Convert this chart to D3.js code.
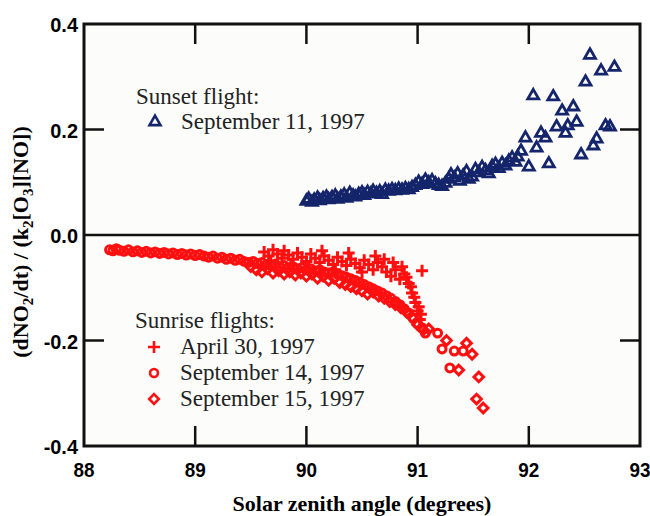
<!DOCTYPE html>
<html>
<head>
<meta charset="utf-8">
<script src="https://cdn.jsdelivr.net/npm/d3@7"></script>
<style>
  body { margin: 0; background: #fff; }
  .tick-label { font-family: "Liberation Sans", "Helvetica", sans-serif; font-weight: bold; font-size: 21px; fill: #000; }
  .title { font-family: "Liberation Serif", "Times New Roman", serif; font-weight: bold; font-size: 22px; fill: #000; }
  .legend { font-family: "Liberation Serif", "Times New Roman", serif; font-size: 23px; fill: #222; }
</style>
</head>
<body>
<svg id="chart" width="650" height="516"></svg>
<script>
// x ticks / y ticks
var xTicks = [88, 89, 90, 91, 92, 93];
var yTicks = [0.4, 0.2, 0.0, -0.2, -0.4];
var yTickLabels = ["0.4", "0.2", "0.0", "-0.2", "-0.4"];

// Sunset flight, September 11 1997 (triangles): [sza, value]
var sep11 = [
  [90.00,.064],[90.02,.068],[90.05,.062],[90.07,.066],[90.10,.070],[90.12,.065],[90.15,.069],[90.18,.072],
  [90.20,.067],[90.23,.071],[90.26,.074],[90.28,.068],[90.31,.072],[90.34,.076],[90.36,.070],[90.39,.079],
  [90.42,.074],[90.44,.072],[90.47,.077],[90.50,.080],[90.52,.075],[90.55,.081],[90.58,.078],[90.60,.083],
  [90.63,.079],[90.66,.082],[90.68,.077],[90.71,.085],[90.74,.083],[90.77,.086],[90.80,.084],[90.83,.087],
  [90.86,.085],[90.89,.088],[90.92,.086],[90.95,.090],[90.98,.094],[91.01,.100],[91.04,.096],[91.07,.104],
  [91.10,.099],[91.13,.103],[91.16,.097],[91.19,.094],[91.22,.092],[91.25,.098],[91.28,.106],[91.30,.114],
  [91.33,.108],[91.36,.116],[91.38,.102],[91.41,.112],[91.44,.120],[91.46,.106],[91.49,.110],[91.52,.124],
  [91.55,.118],[91.58,.128],[91.61,.122],[91.64,.116],[91.67,.130],[91.70,.134],[91.73,.126],[91.76,.136],
  [91.79,.131],[91.82,.140],[91.85,.146],[91.88,.138],
  [91.90,.148],[91.93,.159],[91.97,.184],[92.00,.129],[92.07,.165],[92.11,.193],[92.15,.184],[92.18,.135],
  [92.04,.264],[92.22,.262],[92.30,.235],[92.40,.243],[92.25,.205],[92.35,.207],[92.43,.214],[92.33,.193],
  [92.47,.152],[92.58,.169],[92.61,.182],[92.69,.207],[92.73,.205],[92.51,.290],[92.55,.341],[92.65,.311],
  [92.77,.318]
];

// Sunrise flight, April 30 1997 (crosses)
var apr30 = [
  [89.62,-.032],[89.66,-.040],[89.70,-.028],[89.74,-.036],[89.78,-.044],[89.80,-.030],[89.84,-.038],
  [89.88,-.046],[89.92,-.034],[89.96,-.042],[90.00,-.050],[90.04,-.036],[90.08,-.044],[90.12,-.052],
  [90.16,-.040],[90.20,-.048],[90.24,-.056],[90.28,-.042],[90.32,-.050],[90.36,-.058],[90.40,-.046],
  [90.44,-.054],[90.48,-.062],[90.52,-.048],[90.56,-.056],[90.60,-.066],[90.64,-.052],[90.68,-.060],
  [90.72,-.070],[90.76,-.078],[90.80,-.066],[90.84,-.084],[90.88,-.074],[90.92,-.092],[90.95,-.110],
  [90.98,-.128],[91.00,-.144],[91.02,-.160],[91.04,-.068],
  [89.68,-.050],[89.86,-.056],[90.02,-.062],[90.14,-.030],[90.26,-.066],[90.38,-.034],[90.50,-.070],
  [90.62,-.040],[90.70,-.046],[90.78,-.052],[90.86,-.060],[90.90,-.080],[90.94,-.098],[90.97,-.118],
  [91.01,-.136],[91.03,-.150]
];

// Sunrise flight, September 14 1997 (circles)
var sep14 = [
  [88.23,-.028],[88.26,-.030],[88.29,-.026],[88.32,-.029],[88.36,-.031],[88.40,-.028],[88.44,-.032],
  [88.48,-.030],[88.52,-.033],[88.56,-.031],[88.60,-.034],[88.64,-.032],[88.68,-.035],[88.72,-.033],
  [88.76,-.036],[88.80,-.034],[88.84,-.037],[88.88,-.035],[88.92,-.038],[88.96,-.036],[89.00,-.039],
  [89.04,-.037],[89.08,-.040],[89.12,-.042],[89.16,-.040],[89.20,-.044],[89.24,-.042],[89.28,-.046],
  [89.32,-.044],[89.36,-.048],[89.40,-.046],[89.44,-.050],[89.48,-.052],[89.52,-.050],[89.56,-.054],
  [89.60,-.052],[89.64,-.056],[89.68,-.058],[89.72,-.055],[89.76,-.060],[89.80,-.058],[89.84,-.062],
  [89.88,-.060],[89.92,-.064],[89.96,-.062],[90.00,-.066],[90.04,-.064],[90.08,-.068],[90.12,-.066],
  [90.16,-.070],[90.20,-.072],[90.24,-.070],[90.28,-.074],[90.32,-.077],[90.36,-.080],[90.40,-.083],
  [90.44,-.086],[90.48,-.090],[90.52,-.094],[90.56,-.098],[90.60,-.102],[90.64,-.106],[90.68,-.110],
  [90.72,-.115],[90.76,-.120],[90.80,-.126],[90.84,-.132],[90.88,-.140],[90.92,-.148],[90.96,-.158],
  [91.00,-.168],[91.04,-.176],[91.07,-.186],[91.18,-.186],[91.22,-.216],[91.29,-.252],[91.33,-.220],
  [91.41,-.220]
];

// Sunrise flight, September 15 1997 (diamonds)
var sep15 = [
  [89.50,-.060],[89.55,-.066],[89.60,-.070],[89.65,-.064],[89.70,-.072],[89.75,-.068],[89.80,-.074],
  [89.85,-.070],[89.90,-.076],[89.95,-.072],[90.00,-.078],[90.05,-.074],[90.10,-.082],[90.15,-.078],
  [90.20,-.086],[90.25,-.082],[90.30,-.090],[90.35,-.094],[90.40,-.098],[90.45,-.102],[90.50,-.106],
  [90.55,-.112],[90.60,-.108],[90.65,-.116],[90.70,-.120],[90.75,-.126],[90.80,-.132],[90.85,-.138],
  [90.90,-.146],[90.95,-.156],[91.00,-.170],[91.05,-.180],[91.10,-.178],[91.26,-.200],[91.37,-.256],
  [91.44,-.205],[91.49,-.226],[91.55,-.269],[91.53,-.311],[91.59,-.328]
];

var navy = "#14256b", red = "#ff1010";
var margin = {left: 84, top: 24, right: 10, bottom: 70};
var width = 650 - margin.left - margin.right,
    height = 516 - margin.top - margin.bottom;

var svg = d3.select("#chart");
var g = svg.append("g").attr("transform", "translate(" + margin.left + "," + margin.top + ")");

var x = d3.scaleLinear().domain([88, 93]).range([0, width]);
var y = d3.scaleLinear().domain([-0.4, 0.4]).range([height, 0]);

g.append("rect").attr("width", width).attr("height", height).attr("fill", "#fcfdfb");

// inward ticks, all four sides
var tickLen = 20;
var innerX = xTicks.slice(1, -1), innerY = [0.2, -0.2];
g.selectAll(".tt").data(innerX).enter().append("line")
  .attr("x1", x).attr("x2", x).attr("y1", 0).attr("y2", tickLen)
  .attr("stroke", "#111").attr("stroke-width", 2.5);
g.selectAll(".bt").data(innerX).enter().append("line")
  .attr("x1", x).attr("x2", x).attr("y1", height).attr("y2", height - tickLen)
  .attr("stroke", "#111").attr("stroke-width", 2.5);
g.selectAll(".lt").data(innerY).enter().append("line")
  .attr("x1", 0).attr("x2", tickLen).attr("y1", y).attr("y2", y)
  .attr("stroke", "#111").attr("stroke-width", 2.5);
g.selectAll(".rt").data(innerY).enter().append("line")
  .attr("x1", width).attr("x2", width - tickLen).attr("y1", y).attr("y2", y)
  .attr("stroke", "#111").attr("stroke-width", 2.5);

// zero line
g.append("line").attr("x1", 0).attr("x2", width).attr("y1", y(0)).attr("y2", y(0))
  .attr("stroke", "#111").attr("stroke-width", 2.5);

// data
var tri = d3.symbol().type(d3.symbolTriangle).size(52);
var circ = d3.symbol().type(d3.symbolCircle).size(50);
var diam = "M0,-4.8L4.8,0L0,4.8L-4.8,0Z";
var plus = "M-6,0H6M0,-6V6";

function plot(data, path, color, cls, sw) {
  g.selectAll("." + cls).data(data).enter().append("path")
    .attr("class", cls)
    .attr("d", path)
    .attr("transform", function(d) { return "translate(" + x(d[0]) + "," + y(d[1]) + ")"; })
    .attr("fill", "none").attr("stroke", color).attr("stroke-width", sw);
}
plot(sep14, circ(), red, "s14", 3);
plot(sep15, diam, red, "s15", 3);
plot(apr30, plus, red, "a30", 3);
plot(sep11, tri(), navy, "s11", 2.8);

// frame
g.append("rect").attr("width", width).attr("height", height)
  .attr("fill", "none").attr("stroke", "#111").attr("stroke-width", 3);

// tick labels
g.selectAll(".xl").data(xTicks).enter().append("text")
  .attr("class", "tick-label")
  .attr("transform", function(d) { return "translate(" + x(d) + "," + (height + 31) + ") scale(0.9,1)"; })
  .attr("text-anchor", "middle").text(function(d) { return d; });
g.selectAll(".yl").data(yTicks).enter().append("text")
  .attr("class", "tick-label")
  .attr("transform", function(d) { return "translate(-6," + (y(d) + 8) + ") scale(0.95,1)"; })
  .attr("text-anchor", "end").text(function(d, i) { return yTickLabels[i]; });

// axis titles
svg.append("text").attr("class", "title").attr("x", 362).attr("y", 511)
  .attr("text-anchor", "middle").text("Solar zenith angle (degrees)");

var yt = svg.append("text").attr("class", "title")
  .attr("transform", "translate(28,242) rotate(-90)").attr("text-anchor", "middle");
yt.append("tspan").text("(dNO");
yt.append("tspan").attr("dy", 5).attr("font-size", "15px").text("2");
yt.append("tspan").attr("dy", -5).text("/dt) / (k");
yt.append("tspan").attr("dy", 5).attr("font-size", "15px").text("2");
yt.append("tspan").attr("dy", -5).text("[O");
yt.append("tspan").attr("dy", 5).attr("font-size", "15px").text("3");
yt.append("tspan").attr("dy", -5).text("][NO])");

// legends
function legendEntry(lx, ly, path, color, label) {
  svg.append("path").attr("d", path)
    .attr("transform", "translate(" + lx + "," + (ly - 7) + ")")
    .attr("fill", "none").attr("stroke", color).attr("stroke-width", 2.6);
  svg.append("text").attr("class", "legend").attr("x", lx + 26).attr("y", ly).text(label);
}
svg.append("text").attr("class", "legend").attr("x", 136).attr("y", 104).text("Sunset flight:");
legendEntry(155, 129, tri(), navy, "September 11, 1997");

svg.append("text").attr("class", "legend").attr("x", 135).attr("y", 328).text("Sunrise flights:");
legendEntry(154, 354, plus, red, "April 30, 1997");
legendEntry(154, 380, circ(), red, "September 14, 1997");
legendEntry(154, 406, diam, red, "September 15, 1997");
</script>
</body>
</html>
